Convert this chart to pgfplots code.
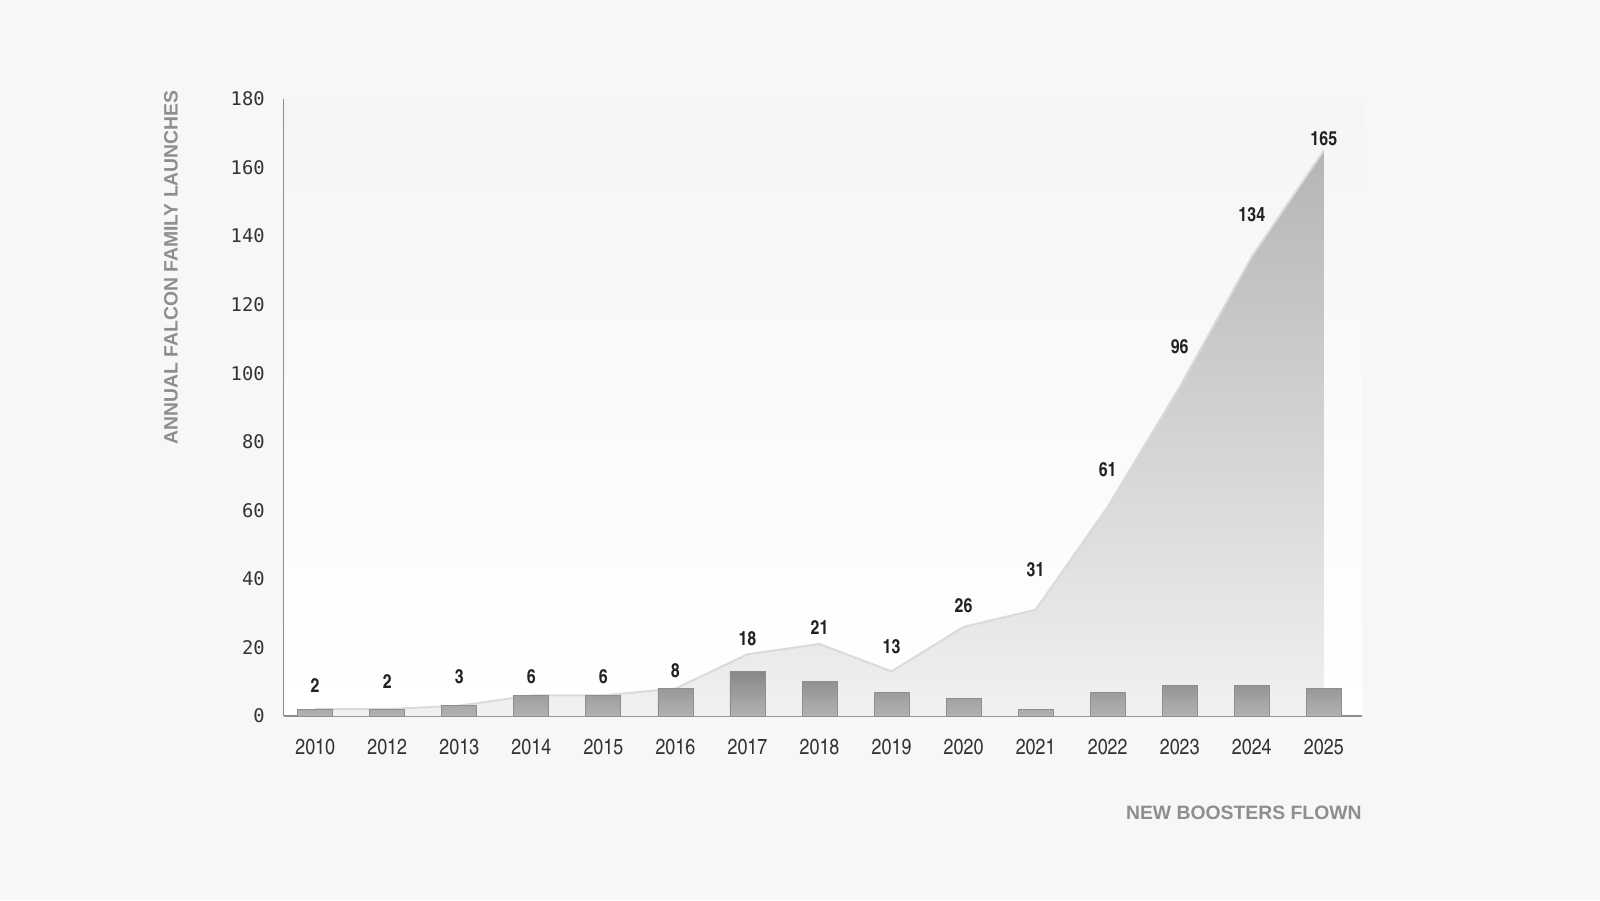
\documentclass[border=0pt]{standalone}
\usepackage{pgfplots}
\pgfplotsset{compat=1.18}
\usepackage{pgfplotstable}
\usepackage{fontspec}
\setmainfont{Liberation Sans}
\newfontfamily\cnfont{texgyreheroscn}[Extension=.otf, UprightFont=*-regular, BoldFont=*-bold]
\newfontfamily\monofont{DejaVu Sans Mono}

\definecolor{pagebg}{HTML}{F7F7F7}
\definecolor{axtop}{HTML}{F5F5F5}
\definecolor{axisgray}{HTML}{8C8C8C}
\definecolor{titlegray}{HTML}{8E8E8E}
\definecolor{ticktext}{HTML}{333333}
\definecolor{valtext}{HTML}{222222}
\definecolor{areatop}{HTML}{B5B5B5}
\definecolor{areabot}{HTML}{F1F1F1}
\definecolor{areaedge}{HTML}{DADADA}
\definecolor{bartop}{HTML}{888888}
\definecolor{barbot}{HTML}{B2B2B2}
\definecolor{baredge}{HTML}{8E8E8E}

% x = category index (2010, 2012 ... 2025), launches, new boosters, label height
\pgfplotstableread{
x  launches  boosters  ly
0  2         2         9.0
1  2         2         10.0
2  3         3         11.4
3  6         6         11.4
4  6         6         11.4
5  8         8         13.1
6  18        13        22.4
7  21        10        25.9
8  13        7         20.1
9  26        5         32.1
10 31        2         42.6
11 61        7         71.7
12 96        9         107.6
13 134       9         146.1
14 165       8         168.5
}\falcon

\begin{document}
\begin{tikzpicture}[x=1pt,y=1pt]
\fill[pagebg] (0,0) rectangle (800,450);
\path[use as bounding box] (0,0) rectangle (800,450);
\begin{axis}[
  at={(141.75pt,92pt)}, anchor=south west,
  width=539.25pt, height=308.5pt, scale only axis,
  xmin=-0.44, xmax=14.53, ymin=0, ymax=180,
  axis x line=bottom, axis y line=left,
  axis line style={draw=axisgray, line width=0.9pt, -},
  axis background/.style={top color=axtop, bottom color=white},
  xtick={0,...,14},
  xticklabels={2010,2012,2013,2014,2015,2016,2017,2018,2019,2020,2021,2022,2023,2024,2025},
  ytick={0,20,...,180},
  major tick length=0pt,
  /pgf/number format/assume math mode=true,
  xticklabel style={font=\cnfont\fontsize{10.9}{12}\selectfont, text=ticktext,
    anchor=base, inner sep=0pt, yshift=-19.5pt},
  yticklabel style={font=\monofont\fontsize{9.4}{11}\selectfont, text=ticktext,
    anchor=east, inner sep=0pt, xshift=-9.2pt},
  clip=false,
]
\addplot[draw=none, top color=areatop, bottom color=areabot]
  table[x=x, y=launches] {\falcon} \closedcycle;
\addplot[draw=areaedge, line width=1pt, mark=none]
  table[x=x, y=launches] {\falcon};
\addplot[ybar, bar width=17.5pt, draw=baredge, line width=0.4pt,
  top color=bartop, bottom color=barbot]
  table[x=x, y=boosters] {\falcon};
\addplot[draw=none, mark=none, point meta=explicit symbolic,
  nodes near coords={\pgfplotspointmeta},
  every node near coord/.append style={anchor=center, inner sep=0pt,
    font=\cnfont\bfseries\fontsize{9.8}{11}\selectfont, text=valtext}]
  table[x=x, y=ly, meta=launches] {\falcon};
\end{axis}
\node[rotate=90, anchor=east, inner sep=0pt, text=titlegray,
  font=\bfseries\fontsize{9.68}{11}\selectfont] at (85.5,405) {ANNUAL FALCON FAMILY LAUNCHES};
\node[anchor=east, inner sep=0pt, text=titlegray,
  font=\bfseries\fontsize{9.68}{11}\selectfont] at (681,43.5) {NEW BOOSTERS FLOWN};
\end{tikzpicture}
\end{document}
